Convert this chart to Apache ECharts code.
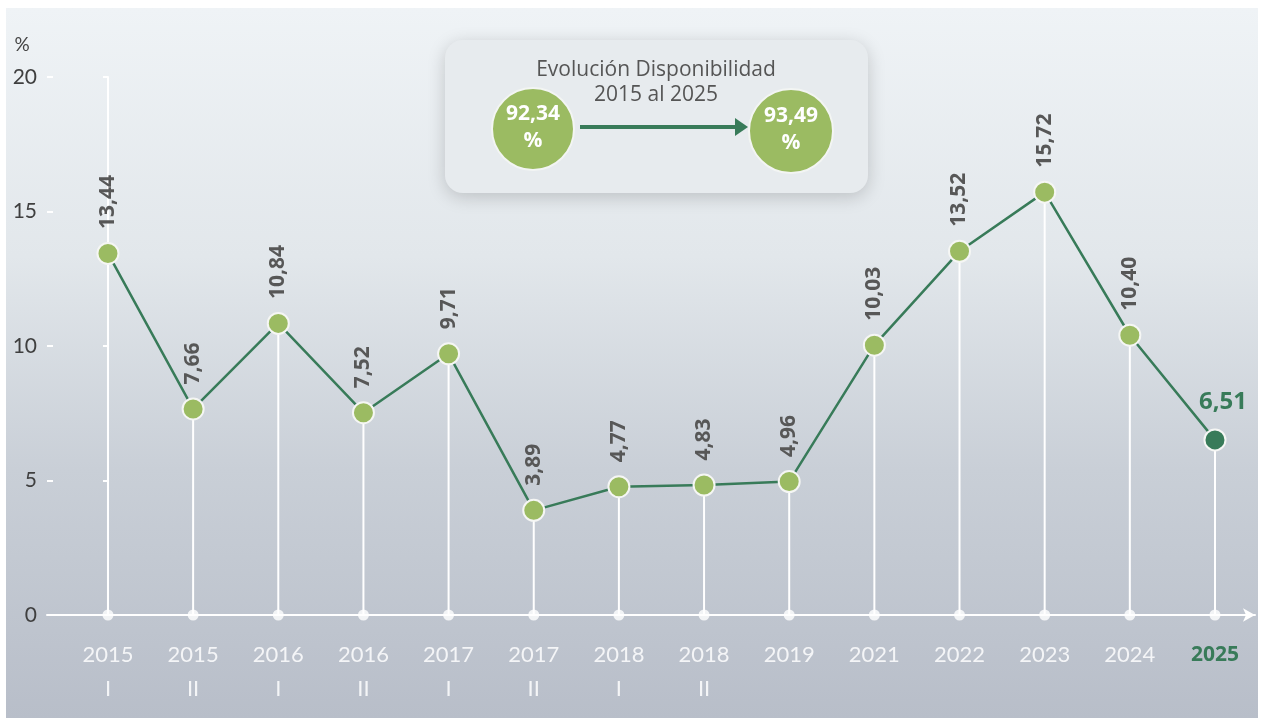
<html>
    <head>
        <meta charset="utf-8">
        <script src="https://cdn.jsdelivr.net/npm/echarts@6/dist/echarts.min.js"></script>
    </head>
    <body>
        <style>
            html, body {
                width: 100%;
                height: 100%;
                margin: 0;
                background: #ffffff;
                overflow: hidden;
            }
            #main {
                position: absolute;
                left: 6px;
                top: 8px;
                width: 1252px;
                height: 710px;
                background: linear-gradient(to bottom, #eff3f6 0%, #e2e7eb 35%, #c9cfd7 65%, #b8bec9 100%);
            }
        </style>
        <div id='main'></div>
        <script type="text/javascript">
            // datos del gráfico
            var years = ['2015', '2015', '2016', '2016', '2017', '2017', '2018', '2018', '2019', '2021', '2022', '2023', '2024', '2025'];
            var periods = ['I', 'II', 'I', 'II', 'I', 'II', 'I', 'II', '', '', '', '', '', ''];
            var values = [13.44, 7.66, 10.84, 7.52, 9.71, 3.89, 4.77, 4.83, 4.96, 10.03, 13.52, 15.72, 10.40, 6.51];
            var yTicks = [0, 5, 10, 15, 20];
            var insetTitle = ['Evolución Disponibilidad', '2015 al 2025'];
            var insetValues = ['92,34', '93,49'];

            var GREEN = '#9bbb62';
            var DARK = '#387b59';
            var FONT = '"Open Sans", Lato, sans-serif';
            var LIGHT = 'Lato, "Open Sans", sans-serif';
            var last = values.length - 1;

            var chart = echarts.init(document.getElementById('main'));

            function fmt(v) {
                return v.toFixed(2).replace('.', ',');
            }

            var lineData = values.map(function (v, i) {
                if (i === last) {
                    return {
                        value: [i, v],
                        itemStyle: { color: DARK },
                        label: {
                            rotate: 0,
                            align: 'center',
                            verticalAlign: 'bottom',
                            distance: 14,
                            offset: [8, 0],
                            color: DARK,
                            fontSize: 24
                        }
                    };
                }
                return [i, v];
            });

            var option = {
                animation: false,
                grid: { left: 41, right: 3, top: 69, bottom: 103 },
                xAxis: {
                    type: 'value',
                    min: -0.716,
                    max: 13.47,
                    splitLine: { show: false },
                    axisTick: { show: false },
                    axisLine: {
                        show: true,
                        onZero: false,
                        symbol: ['none', 'arrow'],
                        symbolSize: [10, 12],
                        lineStyle: { color: '#ffffff', width: 2 }
                    },
                    axisLabel: {
                        customValues: years.map(function (y, i) { return i; }),
                        margin: 23,
                        formatter: function (v) {
                            var i = Math.round(v);
                            if (i === last) return '{b|' + years[i] + '}';
                            return '{a|' + years[i] + '}' + (periods[i] ? '\n{p|' + periods[i] + '}' : '');
                        },
                        rich: {
                            a: { fontFamily: LIGHT, fontSize: 22, color: '#f4f5f7', lineHeight: 34 },
                            p: { fontFamily: LIGHT, fontSize: 22, color: '#f4f5f7', lineHeight: 34 },
                            b: { fontFamily: FONT, fontSize: 21, fontWeight: 'bold', color: DARK, lineHeight: 34 }
                        }
                    }
                },
                yAxis: [{
                    type: 'value',
                    min: yTicks[0],
                    max: yTicks[yTicks.length - 1],
                    interval: 5,
                    splitLine: { show: false },
                    axisLine: { show: true, lineStyle: { color: '#ffffff', width: 2 } },
                    axisTick: { show: true, length: 5, lineStyle: { color: '#ffffff', width: 2 } },
                    axisLabel: { fontFamily: LIGHT, fontSize: 21, color: '#3f3f3f', margin: 10 }
                }, {
                    type: 'value',
                    position: 'left',
                    min: yTicks[0],
                    max: yTicks[yTicks.length - 1],
                    interval: 5,
                    splitLine: { show: false },
                    axisLine: { show: false },
                    axisLabel: { show: false },
                    axisTick: { show: true, inside: true, length: 6, lineStyle: { color: '#ffffff', width: 2 } }
                }],
                series: [{
                    // líneas verticales blancas
                    type: 'bar',
                    barWidth: 2,
                    itemStyle: { color: '#ffffff' },
                    data: values.map(function (v, i) { return [i, v]; }),
                    silent: true,
                    z: 2
                }, {
                    type: 'scatter',
                    symbolSize: 11,
                    itemStyle: { color: '#ffffff' },
                    data: values.map(function (v, i) { return [i, 0]; }),
                    z: 3
                }, {
                    type: 'line',
                    data: lineData,
                    symbol: 'circle',
                    symbolSize: 21,
                    lineStyle: { color: DARK, width: 2.5 },
                    itemStyle: { color: GREEN, borderColor: '#f5f6f4', borderWidth: 2 },
                    label: {
                        show: true,
                        position: 'top',
                        rotate: 90,
                        align: 'left',
                        verticalAlign: 'middle',
                        distance: 13,
                        fontFamily: FONT,
                        fontSize: 21,
                        fontWeight: 'bold',
                        color: '#575757',
                        formatter: function (p) { return fmt(p.value[1]); }
                    },
                    z: 4
                }],
                graphic: [{
                    type: 'text',
                    x: 16, y: 37,
                    style: { text: '%', fontFamily: LIGHT, fontSize: 19, fill: '#444', align: 'center', verticalAlign: 'middle' }
                }, {
                    type: 'rect',
                    shape: { x: 439, y: 32, width: 423, height: 153, r: 18 },
                    style: { fill: '#e7ebee', shadowBlur: 18, shadowColor: 'rgba(0,0,0,0.18)', shadowOffsetY: 4 },
                    z: 10
                }, {
                    type: 'text',
                    x: 650, y: 62,
                    style: { text: insetTitle[0], fontFamily: FONT, fontSize: 21, fill: '#555', align: 'center', verticalAlign: 'middle' },
                    z: 11
                }, {
                    type: 'text',
                    x: 650, y: 87,
                    style: { text: insetTitle[1], fontFamily: FONT, fontSize: 21, fill: '#555', align: 'center', verticalAlign: 'middle' },
                    z: 11
                }, {
                    type: 'circle',
                    shape: { cx: 527, cy: 121, r: 41 },
                    style: { fill: GREEN, stroke: '#f3f5f3', lineWidth: 2 },
                    z: 11
                }, {
                    type: 'circle',
                    shape: { cx: 785, cy: 123, r: 42 },
                    style: { fill: GREEN, stroke: '#f3f5f3', lineWidth: 2 },
                    z: 11
                }, {
                    type: 'text',
                    x: 527, y: 120,
                    style: { text: insetValues[0] + '\n%', fontFamily: FONT, fontSize: 21, fontWeight: 'bold', lineHeight: 27, fill: '#ffffff', align: 'center', verticalAlign: 'middle' },
                    z: 12
                }, {
                    type: 'text',
                    x: 785, y: 122,
                    style: { text: insetValues[1] + '\n%', fontFamily: FONT, fontSize: 21, fontWeight: 'bold', lineHeight: 27, fill: '#ffffff', align: 'center', verticalAlign: 'middle' },
                    z: 12
                }, {
                    type: 'line',
                    shape: { x1: 574, y1: 119, x2: 731, y2: 119 },
                    style: { stroke: DARK, lineWidth: 4 },
                    z: 11
                }, {
                    type: 'polygon',
                    shape: { points: [[729, 110], [742, 119], [729, 128]] },
                    style: { fill: DARK },
                    z: 11
                }]
            };
            chart.setOption(option);
            window.onresize = chart.resize;
        </script>
    </body>
</html>
